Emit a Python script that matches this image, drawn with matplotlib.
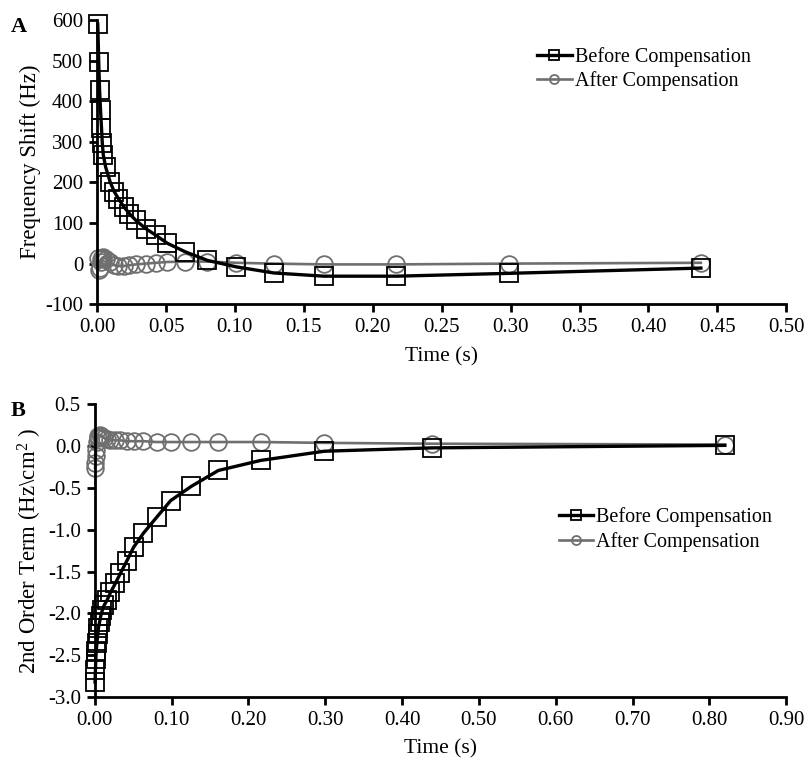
import matplotlib.pyplot as plt

plt.rcParams['font.family'] = ['Liberation Serif', 'DejaVu Serif']
plt.rcParams['mathtext.fontset'] = 'custom'
plt.rcParams['mathtext.rm'] = 'Liberation Serif'
plt.rcParams['mathtext.it'] = 'Liberation Serif:italic'

# Panel A: frequency shift
time_a = [0.0005, 0.0012, 0.0018, 0.0025, 0.0032, 0.0038, 0.0045, 0.0062, 0.0095,
          0.0125, 0.0155, 0.0194, 0.0235, 0.028, 0.0354, 0.0426, 0.051, 0.064,
          0.080, 0.101, 0.128, 0.1645, 0.217, 0.299, 0.438]
before_a = [590, 497, 429, 378, 335, 296, 268, 238, 201, 177, 160, 140, 123, 107,
            86, 70, 50, 29, 8, -8, -23, -31, -31, -24, -11]
after_a = [15, -15, -10, 5, 12, 14, 16, 12, 3, -4, -6, -6, -4, -2, 0, 2, 4, 5, 5,
           2, 0, -2, -2, 0, 2]

# Panel B: 2nd order term
time_b = [0.0005, 0.001, 0.0015, 0.002, 0.003, 0.004, 0.005, 0.0065, 0.008, 0.010,
          0.0125, 0.0163, 0.0206, 0.027, 0.0335, 0.042, 0.0506, 0.0635, 0.0807,
          0.099, 0.1258, 0.161, 0.216, 0.2987, 0.4385, 0.82]
before_b = [-2.82, -2.68, -2.55, -2.45, -2.35, -2.25, -2.17, -2.10, -2.03, -1.96,
            -1.90, -1.84, -1.75, -1.64, -1.52, -1.37, -1.21, -1.04, -0.85, -0.65,
            -0.48, -0.29, -0.17, -0.06, -0.02, 0.01]
after_b = [-0.26, -0.20, -0.12, -0.04, 0.05, 0.10, 0.12, 0.13, 0.12, 0.11, 0.10,
           0.09, 0.08, 0.07, 0.07, 0.06, 0.06, 0.06, 0.05, 0.05, 0.05, 0.05, 0.05,
           0.04, 0.03, 0.02]

xticks_a = [0.00, 0.05, 0.10, 0.15, 0.20, 0.25, 0.30, 0.35, 0.40, 0.45, 0.50]
yticks_a = [-100, 0, 100, 200, 300, 400, 500, 600]
xticks_b = [0.00, 0.10, 0.20, 0.30, 0.40, 0.50, 0.60, 0.70, 0.80, 0.90]
yticks_b = [-3.0, -2.5, -2.0, -1.5, -1.0, -0.5, 0.0, 0.5]

GRAY = '#6f6f6f'
fig = plt.figure(figsize=(8.09, 7.74), dpi=100)
ax_a = fig.add_axes([0.120, 0.607, 0.852, 0.367])
ax_b = fig.add_axes([0.117, 0.0995, 0.855, 0.378])


def draw(ax, t, before, after, xticks, yticks, xfmt, yfmt, ylabel, legend_anchor):
    ax.plot(t, before, color='black', lw=2.4, marker='s', ms=12.5, mfc='none',
            mec='black', mew=1.3, label='Before Compensation', zorder=3,
            clip_on=False)
    ax.plot(t, after, color=GRAY, lw=1.9, marker='o', ms=12, mfc='none',
            mec=GRAY, mew=1.3, label='After Compensation', zorder=2,
            clip_on=False)
    ax.set_xlim(xticks[0], xticks[-1])
    ax.set_ylim(yticks[0], yticks[-1])
    ax.set_xticks(xticks)
    ax.set_yticks(yticks)
    ax.set_xticklabels([xfmt.format(v) for v in xticks])
    ax.set_yticklabels([yfmt.format(v) for v in yticks])
    for s in ['top', 'right']:
        ax.spines[s].set_visible(False)
    for s in ['left', 'bottom']:
        ax.spines[s].set_linewidth(2)
    ax.tick_params(direction='out', length=6, width=2, labelsize=15, pad=4)
    ax.set_xlabel('Time (s)', fontsize=15.5, labelpad=7)
    ax.set_ylabel(ylabel, fontsize=16.5, labelpad=3)
    leg = ax.legend(loc='upper left', bbox_to_anchor=legend_anchor, frameon=False,
                    fontsize=14.5, handlelength=1.7, handletextpad=0.15,
                    labelspacing=0.25, borderaxespad=0)
    for h in leg.legend_handles:
        h.set_markersize(6.5)


draw(ax_a, time_a, before_a, after_a, xticks_a, yticks_a, '{:.2f}', '{:.0f}',
     'Frequency Shift (Hz)', (0.627, 0.935))
draw(ax_b, time_b, before_b, after_b, xticks_b, yticks_b, '{:.2f}', '{:.1f}',
     '2nd Order Term (Hz\\cm$^2$ )', (0.66, 0.675))

fig.text(0.013, 0.978, 'A', fontsize=16, fontweight='bold', va='top')
fig.text(0.013, 0.482, 'B', fontsize=16, fontweight='bold', va='top')

fig.savefig('out.png', dpi=100)
